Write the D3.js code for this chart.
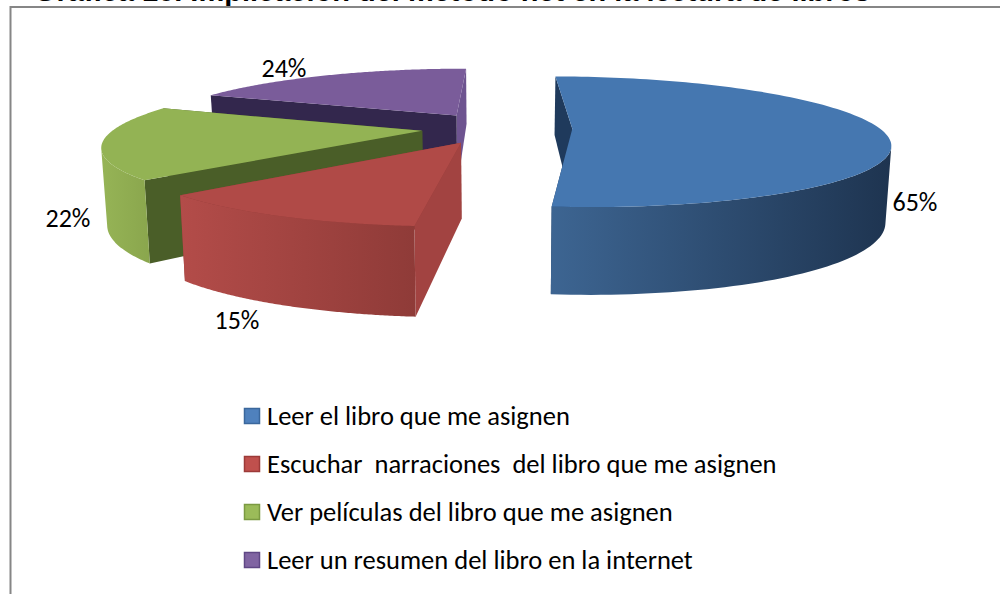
<!DOCTYPE html>
<html><head><meta charset="utf-8">
<script src="https://cdn.jsdelivr.net/npm/d3@7/dist/d3.min.js"></script>
<style>html,body{margin:0;padding:0;background:#fff}svg{display:block}</style>
</head><body><svg id="c" width="1000" height="594"></svg>
<script>
const categories = ["Leer el libro que me asignen","Escuchar  narraciones  del libro que me asignen","Ver películas del libro que me asignen","Leer un resumen del libro en la internet"];
const values = [65,15,22,24];
const valueLabels = ["65%","15%","22%","24%"];
const topColors = ["#4577b0","#b04a47","#93b354","#7a5c9a"];
const swatchColors = ["#4f81bd","#c0504d","#9bbb59","#8064a2"];
const swatchBorders = ["#3a679c","#9c3a38","#7b9a42","#5f4785"];
const startWall = ["#1f3a5c","#a24341","#4a5e28","#33274d"];
const endWall = ["#1f3a5c","#8f3b38","#4a5e28","#6e5490"];
const wallLeft = ["#3d6592","#b34c49","#96b456","#6e5490"];
const wallRight = ["#1e3450","#8f3b38","#8aa64d","#6e5490"];
const drawOrder = [3,2,0,1];
const labelPos = [[915,202],[237,320],[68,218],[284,68]];

const svg = d3.select("#c");
const cx=497, cy=128, rx=307, ry=65, perspX=0.225, perspY=0.2, explode=0.245, depth=73, floorShrink=0.985;

const W=1000,H=594;
svg.append("text").attr("x",34).attr("y",0.5).attr("font-family","Liberation Sans").attr("font-weight","bold").attr("font-size",29).attr("fill","#000")
  .text("Gráfica 10. Implicación del método net en la lectura de libros");
svg.append("path").attr("d",`M10.5,${H} V7 H${W}`).attr("fill","none").attr("stroke","#868686").attr("stroke-width",2);

const arcs = d3.pie().sort(null).value(d=>d)(values);
const defs = svg.append("defs");

function proj(u,v,z,ub,vb){
  const U=u+explode*ub, V=v+explode*vb, px=1+perspX*V, py=1+perspY*V;
  const s=z?floorShrink:1;
  return [cx+rx*U*px*s, cy+ry*V*py+(z?depth*py:0)];
}
const line=d3.line();
arcs.forEach((a,idx)=>{
  defs.append("linearGradient").attr("id","g"+idx).attr("x1",0).attr("x2",1).attr("y1",0).attr("y2",0)
    .selectAll("stop").data([wallLeft[idx],wallRight[idx]]).join("stop")
    .attr("offset",(d,i)=>i).attr("stop-color",d=>d);
});
drawOrder.forEach(i=>{
  const a=arcs[i], mid=(a.startAngle+a.endAngle)/2, ub=Math.sin(mid), vb=-Math.cos(mid);
  const P=(ang,z)=>proj(Math.sin(ang),-Math.cos(ang),z,ub,vb);
  const O=z=>proj(0,0,z,ub,vb);
  const angs=d3.range(0,121).map(d3.scaleLinear().domain([0,120]).range([a.startAngle,a.endAngle]));
  const g=svg.append("g");
  const quad=(ang,c)=>g.append("path").attr("d",line([O(0),P(ang,0),P(ang,1),O(1)])+"Z").attr("fill",c);
  quad(a.endAngle,endWall[i]);
  quad(a.startAngle,startWall[i]);
  // outer wall: only the part of the rim that faces the viewer (x falling as the angle grows)
  const front=angs.filter((t,k)=>{
    const prev=angs[Math.max(0,k-1)], next=angs[Math.min(angs.length-1,k+1)];
    return P(next,0)[0]<P(prev,0)[0];
  });
  if(front.length>1){
    g.append("path").attr("d",line(front.map(t=>P(t,0)).concat(front.slice().reverse().map(t=>P(t,1))))+"Z").attr("fill",`url(#g${i})`);
  }
  g.append("path").attr("d",line([O(0)].concat(angs.map(t=>P(t,0))))+"Z").attr("fill",topColors[i]);
});

const fam="Carlito, Calibri, 'Open Sans', 'Noto Sans', sans-serif";
svg.selectAll("text.v").data(valueLabels).join("text").attr("class","v")
  .attr("x",(d,i)=>labelPos[i][0]).attr("y",(d,i)=>labelPos[i][1]+9).attr("text-anchor","middle")
  .attr("font-family",fam).attr("font-size",26).attr("fill","#000").text(d=>d);

const ly=d3.scalePoint().domain(d3.range(categories.length)).range([416,560]);
const lg=svg.selectAll("g.l").data(categories).join("g").attr("class","l").attr("transform",(d,i)=>`translate(0,${ly(i)})`);
lg.append("rect").attr("x",244.5).attr("y",-7.5).attr("width",15).attr("height",15)
  .attr("fill",(d,i)=>swatchColors[i]).attr("stroke",(d,i)=>swatchBorders[i]).attr("stroke-width",1.5);
lg.append("text").attr("x",267).attr("y",8.5).attr("font-family",fam).attr("font-size",26.5).attr("fill","#000").style("white-space","pre").text(d=>d);
</script></body></html>
